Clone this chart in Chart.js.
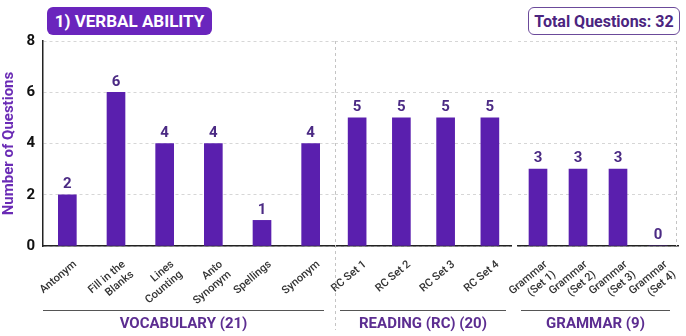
<!DOCTYPE html>
<html>
<head>
<meta charset="utf-8">
<script src="https://cdn.jsdelivr.net/npm/chart.js@4/dist/chart.umd.min.js"></script>
<style>
  body { margin:0; background:#fff; font-family: Roboto, sans-serif; }
  #wrap { position:relative; width:686px; height:336px; overflow:hidden; }
  canvas { position:absolute; top:0; }
  .badge { position:absolute; top:7px; height:28px; box-sizing:border-box; border-radius:6px;
           font-weight:700; display:flex; align-items:center; justify-content:center; }
  #title { left:47px; width:165px; background:#6a25bd; color:#fff; font-size:17px; }
  #total { left:528px; width:152px; border:1.5px solid #6b4a9a; color:#4b2480; font-size:16px; background:#fff; }
</style>
</head>
<body>
<div id="wrap">
  <canvas id="c1" width="335" height="336" style="left:0"></canvas>
  <canvas id="c2" width="217" height="336" style="left:295px"></canvas>
  <canvas id="c3" width="214" height="336" style="left:472px"></canvas>
  <div class="badge" id="title">1) VERBAL ABILITY</div>
  <div class="badge" id="total">Total Questions: 32</div>
</div>
<script>
const vocabLabels = ['Antonym', ['Fill in the', 'Blanks'], ['Lines', 'Counting'], ['Anto', 'Synonym'], 'Spellings', 'Synonym'];
const vocabValues = [2, 6, 4, 4, 1, 4];
const readingLabels = ['RC Set 1', 'RC Set 2', 'RC Set 3', 'RC Set 4'];
const readingValues = [5, 5, 5, 5];
const grammarLabels = [['Grammar', '(Set 1)'], ['Grammar', '(Set 2)'], ['Grammar', '(Set 3)'], ['Grammar', '(Set 4)']];
const grammarValues = [3, 3, 3, 0];
const groupNames = ['VOCABULARY (21)', 'READING (RC) (20)', 'GRAMMAR (9)'];
const yMax = 8;

const barColor = '#5a1fae';
const FONT = 'Roboto, sans-serif';

// value labels, separators and group brackets
const decor = {
  id: 'decor',
  afterDatasetsDraw(chart, args, opts) {
    const ctx = chart.ctx;
    const area = chart.chartArea;
    const meta = chart.getDatasetMeta(0);
    ctx.save();
    ctx.fillStyle = '#4b2a84';
    ctx.font = `bold 15px ${FONT}`;
    ctx.textAlign = 'center';
    ctx.textBaseline = 'bottom';
    meta.data.forEach((bar, i) => {
      ctx.fillText(chart.data.datasets[0].data[i], bar.x, bar.y - 3);
    });

    ctx.strokeStyle = '#c4c4c4';
    ctx.lineWidth = 1;
    ctx.setLineDash([3, 3]);
    (opts.seps || []).forEach(side => {
      const x = Math.round(side === 'left' ? area.left : area.right) + 0.5;
      ctx.beginPath();
      ctx.moveTo(x, area.top);
      ctx.lineTo(x, 330);
      ctx.stroke();
    });
    if (opts.edge) {
      const x = Math.round(area.right) - 1.5;
      ctx.beginPath();
      ctx.moveTo(x, area.top);
      ctx.lineTo(x, area.bottom);
      ctx.stroke();
    }
    ctx.setLineDash([]);

    ctx.strokeStyle = '#555';
    ctx.lineWidth = 1;
    const y = area.bottom + 64.5;
    ctx.beginPath();
    ctx.moveTo(area.left + opts.inset[0], y);
    ctx.lineTo(area.right - opts.inset[1], y);
    ctx.stroke();
    ctx.fillStyle = '#5c2d91';
    ctx.font = `bold 15px ${FONT}`;
    ctx.textBaseline = 'middle';
    ctx.fillText(opts.group, (area.left + opts.inset[0] + area.right - opts.inset[1]) / 2, area.bottom + 78);
    ctx.restore();
  }
};

function makeChart(id, labels, values, o) {
  return new Chart(document.getElementById(id), {
    type: 'bar',
    data: { labels: labels, datasets: [{ data: values, backgroundColor: barColor, barThickness: 18 }] },
    options: {
      responsive: false,
      animation: false,
      layout: { padding: { top: 41, left: o.padLeft, right: o.padRight, bottom: 0 } },
      plugins: { legend: { display: false }, tooltip: { enabled: false }, decor: o.decor },
      scales: {
        x: {
          offset: true,
          grid: { display: false },
          border: { color: '#222', width: 1.5 },
          ticks: { minRotation: 40, maxRotation: 40, autoSkip: false, padding: 4, labelOffset: 8,
                   color: '#333', font: { family: FONT, size: 11, weight: '500' } },
          afterFit: s => { s.height = 90; }
        },
        y: {
          min: 0, max: yMax,
          grid: { color: '#d6d6d6', drawTicks: false },
          border: { display: o.showY, color: '#222', width: 1.5, dash: [3, 3] },
          ticks: { display: o.showY, stepSize: 2, padding: 8, color: '#111',
                   font: { family: FONT, size: 15, weight: 'bold' } },
          title: { display: o.showY, text: 'Number of Questions', color: '#6a2bb5', padding: 0,
                   font: { family: FONT, size: 15, weight: 'bold' } },
          afterFit: s => { s.width = o.showY ? 43 : 0; }
        }
      }
    },
    plugins: [decor]
  });
}

makeChart('c1', vocabLabels, vocabValues, {
  showY: true, padLeft: 0, padRight: 0,
  decor: { group: groupNames[0], inset: [0, 11], seps: [] }
});
makeChart('c2', readingLabels, readingValues, {
  showY: false, padLeft: 40, padRight: 0,
  decor: { group: groupNames[1], inset: [5, 6], seps: ['left', 'right'] }
});
makeChart('c3', grammarLabels, grammarValues, {
  showY: false, padLeft: 46, padRight: 8,
  decor: { group: groupNames[2], inset: [3, 8], seps: [], edge: true }
});
</script>
</body>
</html>
